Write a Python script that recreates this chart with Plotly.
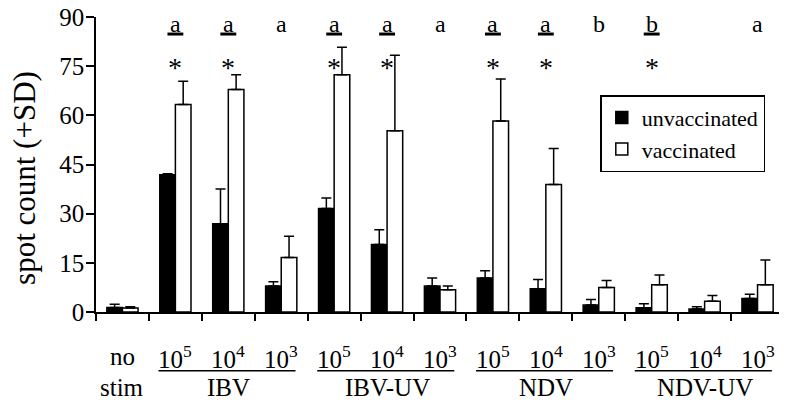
import plotly.graph_objects as go

# --- data ------------------------------------------------------------------
dose_labels = ["no", "10<sup>5</sup>", "10<sup>4</sup>", "10<sup>3</sup>",
               "10<sup>5</sup>", "10<sup>4</sup>", "10<sup>3</sup>",
               "10<sup>5</sup>", "10<sup>4</sup>", "10<sup>3</sup>",
               "10<sup>5</sup>", "10<sup>4</sup>", "10<sup>3</sup>"]
group_names = ["stim", "IBV", "IBV-UV", "NDV", "NDV-UV"]
group_spans = [(0, 0), (1, 3), (4, 6), (7, 9), (10, 12)]

unvac = [1.4, 41.9, 26.9, 7.9, 31.6, 20.6, 7.9, 10.4, 7.1, 2.1, 1.3, 0.9, 4.1]
unvac_sd = [1.0, 0.3, 10.6, 1.3, 3.2, 4.5, 2.5, 2.2, 2.8, 1.7, 1.2, 0.7, 1.3]
vac = [1.2, 63.3, 67.9, 16.6, 72.4, 55.3, 6.8, 58.3, 38.9, 7.5, 8.3, 3.3, 8.3]
vac_sd = [0.4, 7.1, 4.5, 6.5, 8.4, 23.0, 1.1, 12.8, 11.0, 2.1, 3.0, 1.7, 7.6]

letters = ["", "a", "a", "a", "a", "a", "a", "a", "a", "b", "b", "", "a"]
underlined = [0, 1, 1, 0, 1, 1, 0, 1, 1, 0, 1, 0, 0]
stars = [0, 1, 1, 0, 1, 1, 0, 1, 1, 0, 1, 0, 0]

y_ticks = [0, 15, 30, 45, 60, 75, 90]

FONT = "Liberation Serif, Times New Roman, serif"
x = list(range(len(unvac)))

fig = go.Figure()
fig.add_trace(go.Bar(
    x=x, y=unvac, name="unvaccinated",
    marker=dict(color="black", line=dict(color="black", width=1.5)),
    error_y=dict(type="data", symmetric=False, array=unvac_sd,
                 arrayminus=[0] * len(unvac), color="black",
                 thickness=1.5, width=5),
))
fig.add_trace(go.Bar(
    x=x, y=vac, name="vaccinated",
    marker=dict(color="white", line=dict(color="black", width=1.5)),
    error_y=dict(type="data", symmetric=False, array=vac_sd,
                 arrayminus=[0] * len(vac), color="black",
                 thickness=1.5, width=5),
))

# significance letters, underlines and stars above each group
for i, lab in enumerate(letters):
    if lab:
        fig.add_annotation(x=i, y=87.9, text=lab, showarrow=False,
                           font=dict(family=FONT, size=24, color="black"))
    if underlined[i]:
        fig.add_shape(type="line", xref="x", yref="y", x0=i - 0.15, x1=i + 0.15,
                      y0=84.8, y1=84.8, line=dict(color="black", width=3))
    if stars[i]:
        fig.add_annotation(x=i, y=74.5, text="*", showarrow=False,
                           font=dict(family=FONT, size=28, color="black"))

# labels under the x axis
for i, lab in enumerate(dose_labels):
    fig.add_annotation(x=i, xref="x", y=-0.152, yref="paper", text=lab,
                       showarrow=False, yanchor="middle",
                       font=dict(family=FONT, size=25, color="black"))
for name, (a, b) in zip(group_names, group_spans):
    fig.add_annotation(x=(a + b) / 2, xref="x", y=-0.257, yref="paper",
                       text=name, showarrow=False, yanchor="middle",
                       font=dict(family=FONT, size=25, color="black"))
    if b > a:
        fig.add_shape(type="line", xref="x", yref="paper",
                      x0=a - 0.32, x1=b + 0.27, y0=-0.199, y1=-0.199,
                      line=dict(color="black", width=1.5))

# y-axis title as a rotated annotation so it sits where the reference has it
fig.add_annotation(x=-0.104, xref="paper", y=0.456, yref="paper",
                   text="spot count (+SD)", textangle=-90, showarrow=False,
                   xanchor="center", yanchor="middle",
                   font=dict(family=FONT, size=31, color="black"))

# page body has an 8px margin, so the figure is sized/offset to compensate
fig.update_layout(
    width=779, height=393,
    paper_bgcolor="white", plot_bgcolor="white",
    barmode="group", bargap=0.41, bargroupgap=0,
    font=dict(family=FONT, color="black"),
    margin=dict(l=88, r=3, t=9, b=89),
    showlegend=True,
    legend=dict(x=0.733, y=0.735, xanchor="left", yanchor="top",
                bordercolor="black", borderwidth=1.5, bgcolor="white",
                font=dict(family=FONT, size=22), tracegroupgap=2),
    xaxis=dict(range=[-0.5, 12.5], tickvals=[k - 0.5 for k in range(14)],
               showticklabels=False, ticks="outside", ticklen=7,
               tickwidth=1.5, tickcolor="black", showline=True,
               linecolor="black", linewidth=1.5, showgrid=False,
               zeroline=False, automargin=False),
    yaxis=dict(range=[0, 90], tickvals=y_ticks, ticks="outside", ticklen=8,
               tickwidth=1.5, tickcolor="black", showline=True,
               linecolor="black", linewidth=1.5, showgrid=False,
               zeroline=False, ticklabeloverflow="allow", automargin=False,
               ticklabelstandoff=-3,
               tickfont=dict(family=FONT, size=25, color="black")),
)

fig.write_html("out.html")
